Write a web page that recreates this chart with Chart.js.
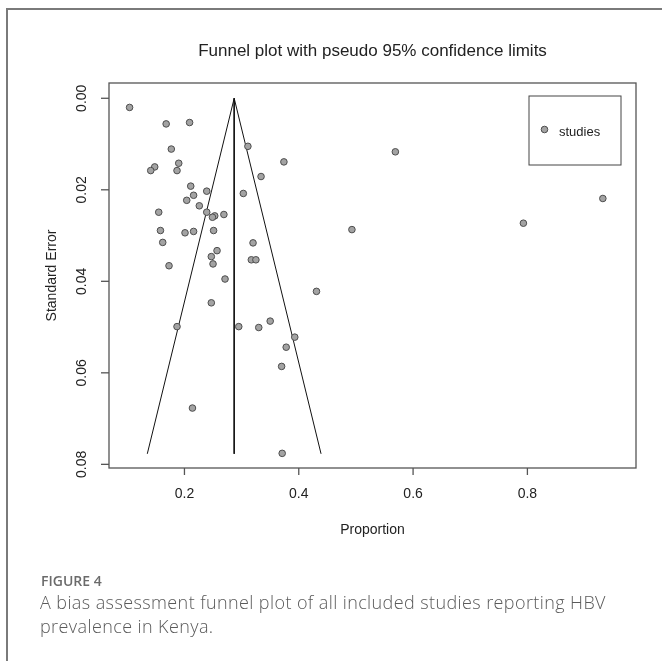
<!DOCTYPE html>
<html>
<head>
<meta charset="utf-8">
<script src="https://cdn.jsdelivr.net/npm/chart.js@4/dist/chart.umd.min.js"></script>
<style>
  html, body { margin: 0; padding: 0; background: #fff; }
  #wrap { position: relative; width: 662px; height: 661px; overflow: hidden; }
  #frame { position: absolute; left: 6px; top: 8px; width: 700px; height: 700px;
           border-left: 2px solid #7a7a7a; border-top: 2px solid #7a7a7a; }
  #funnel-chart { position: absolute; left: 0; top: 0; }
  .fig-label { position: absolute; left: 41px; top: 571px; font-family: "Open Sans", sans-serif;
               font-size: 14px; font-weight: 600; color: #6b6b6b; }
  .fig-caption { position: absolute; left: 40px; top: 590px; width: 615px; font-family: "Open Sans", sans-serif;
                 font-size: 18px; letter-spacing: 0.4px; line-height: 24px; color: #5a5a5a; font-weight: 300; }
</style>
</head>
<body>
<div id="wrap">
  <div id="frame"></div>
  <canvas id="funnel-chart" width="662" height="661"></canvas>
  <div class="fig-label">FIGURE 4</div>
  <div class="fig-caption">A bias assessment funnel plot of all included studies reporting HBV prevalence in Kenya.</div>
</div>
<script>
// study estimates
const proportion = [0.104, 0.168, 0.209, 0.177, 0.311, 0.374, 0.148, 0.141, 0.190, 0.187,
                    0.334, 0.211, 0.239, 0.216, 0.303, 0.204, 0.226, 0.239, 0.253, 0.249,
                    0.269, 0.155, 0.158, 0.201, 0.216, 0.251, 0.162, 0.320, 0.257, 0.247,
                    0.317, 0.325, 0.250, 0.173, 0.271, 0.247, 0.187, 0.295, 0.330, 0.350,
                    0.378, 0.370, 0.214, 0.371, 0.393, 0.569, 0.493, 0.431, 0.932, 0.793];
const standardError = [0.0020, 0.0056, 0.0053, 0.0111, 0.0105, 0.0139, 0.0150, 0.0158, 0.0142, 0.0158,
                       0.0171, 0.0192, 0.0203, 0.0212, 0.0208, 0.0223, 0.0235, 0.0249, 0.0257, 0.0260,
                       0.0254, 0.0249, 0.0289, 0.0294, 0.0291, 0.0289, 0.0315, 0.0316, 0.0333, 0.0346,
                       0.0353, 0.0353, 0.0362, 0.0366, 0.0395, 0.0447, 0.0499, 0.0499, 0.0501, 0.0487,
                       0.0544, 0.0586, 0.0677, 0.0776, 0.0522, 0.0117, 0.0287, 0.0422, 0.0219, 0.0273];

// pseudo 95% limits and pooled estimate
const funnelX = [0.135, 0.287, 0.439];
const funnelY = [0.0777, 0.0, 0.0777];
const pooledX = [0.287, 0.287];
const pooledY = [0.0, 0.0777];

const xTicks = [0.2, 0.4, 0.6, 0.8];
const xTickLabels = ['0.2', '0.4', '0.6', '0.8'];
const yTicks = [0.00, 0.02, 0.04, 0.06, 0.08];
const yTickLabels = ['0.00', '0.02', '0.04', '0.06', '0.08'];

const chartTitle = 'Funnel plot with pseudo 95% confidence limits';
const xTitle = 'Proportion';
const yTitle = 'Standard Error';
const legendLabel = 'studies';

const pointFill = '#a3a3a3';
const pointEdge = '#4d4d4d';
const rFont = '"Liberation Sans", Arial, sans-serif';

const zip = (xs, ys) => xs.map((x, i) => ({ x: x, y: ys[i] }));

// base-graphics style axes, box, titles and legend
const rAxes = {
    id: 'rAxes',
    afterDraw(chart) {
        const ctx = chart.ctx;
        const a = chart.chartArea;
        const xs = chart.scales.x, ys = chart.scales.y;
        ctx.save();
        ctx.strokeStyle = '#555';
        ctx.lineWidth = 1.3;
        ctx.strokeRect(a.left, a.top, a.right - a.left, a.bottom - a.top);

        ctx.fillStyle = '#222';
        ctx.font = '14px ' + rFont;
        ctx.textAlign = 'center';
        ctx.textBaseline = 'middle';
        xTicks.forEach((v, i) => {
            const px = xs.getPixelForValue(v);
            ctx.beginPath();
            ctx.moveTo(px, a.bottom);
            ctx.lineTo(px, a.bottom + 7);
            ctx.stroke();
            ctx.fillText(xTickLabels[i], px, a.bottom + 26);
        });
        yTicks.forEach((v, i) => {
            const py = ys.getPixelForValue(v);
            ctx.beginPath();
            ctx.moveTo(a.left, py);
            ctx.lineTo(a.left - 8, py);
            ctx.stroke();
            ctx.save();
            ctx.translate(a.left - 27, py);
            ctx.rotate(-Math.PI / 2);
            ctx.fillText(yTickLabels[i], 0, 0);
            ctx.restore();
        });

        ctx.font = '17px ' + rFont;
        ctx.textBaseline = 'alphabetic';
        ctx.fillText(chartTitle, (a.left + a.right) / 2, 55.5);
        ctx.textBaseline = 'middle';
        ctx.font = '14px ' + rFont;
        ctx.fillText(xTitle, (a.left + a.right) / 2, 530);
        ctx.save();
        ctx.translate(52, (a.top + a.bottom) / 2);
        ctx.rotate(-Math.PI / 2);
        ctx.fillText(yTitle, 0, 0);
        ctx.restore();

        // legend box
        ctx.strokeStyle = '#444';
        ctx.lineWidth = 1;
        ctx.strokeRect(529, 96, 92, 69);
        ctx.beginPath();
        ctx.arc(544.5, 129.5, 3.3, 0, Math.PI * 2);
        ctx.fillStyle = pointFill;
        ctx.fill();
        ctx.strokeStyle = pointEdge;
        ctx.stroke();
        ctx.fillStyle = '#222';
        ctx.textAlign = 'left';
        ctx.font = '13px ' + rFont;
        ctx.fillText(legendLabel, 559, 132);
        ctx.restore();
    }
};

const funnelCanvas = document.getElementById('funnel-chart');
const funnelChart = new Chart(funnelCanvas, {
    type: 'scatter',
    data: {
        datasets: [{
            label: legendLabel,
            data: zip(proportion, standardError),
            backgroundColor: pointFill,
            borderColor: pointEdge,
            borderWidth: 1,
            pointRadius: 3.3,
            order: 1
        }, {
            type: 'line',
            label: 'limits',
            data: zip(funnelX, funnelY),
            borderColor: '#111',
            borderWidth: 1,
            pointRadius: 0,
            fill: false,
            tension: 0,
            order: 2
        }, {
            type: 'line',
            label: 'pooled',
            data: zip(pooledX, pooledY),
            borderColor: '#111',
            borderWidth: 1,
            pointRadius: 0,
            fill: false,
            order: 2
        }]
    },
    options: {
        responsive: false,
        animation: false,
        layout: {
            padding: { left: 109, top: 83, right: 26, bottom: 193 }
        },
        scales: {
            x: { type: 'linear', min: 0.068, max: 0.99, display: false },
            y: { type: 'linear', min: -0.00334, max: 0.0808, reverse: true, display: false }
        },
        plugins: {
            legend: { display: false },
            tooltip: { enabled: false }
        }
    },
    plugins: [rAxes]
});
</script>
</body>
</html>
